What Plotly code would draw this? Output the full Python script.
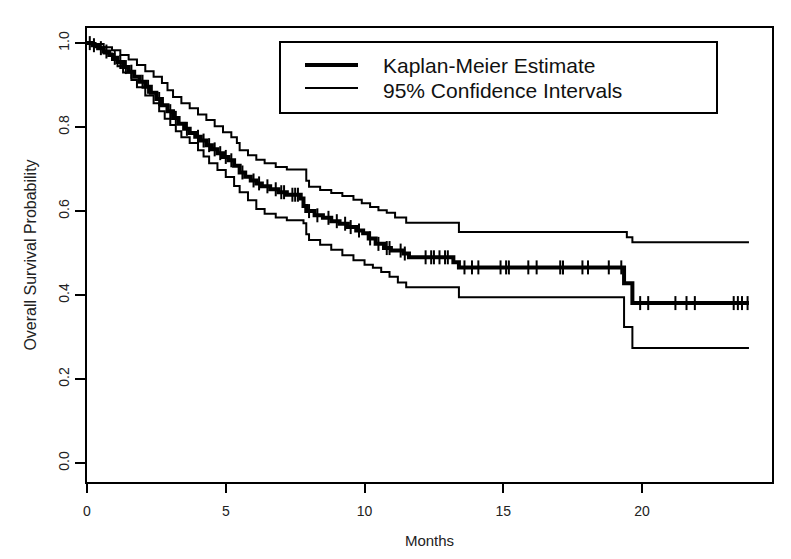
import numpy as np
import plotly.graph_objects as go

# ---------------- data ----------------
km_time = [0, 0.2, 0.4, 0.6, 0.8, 0.95, 1.1, 1.3, 1.5, 1.7, 1.9, 2.1, 2.3, 2.5, 2.7, 2.9,
           3.1, 3.3, 3.5, 3.7, 3.9, 4.1, 4.3, 4.5, 4.7, 4.9, 5.1, 5.3, 5.5, 5.7, 5.9, 6.1,
           6.3, 6.6, 6.9, 7.2, 7.7, 7.8, 7.9, 8.2, 8.5, 8.8, 9.1, 9.4, 9.7, 9.95, 10.15,
           10.4, 10.7, 10.95, 11.4, 11.6, 13.2, 13.4, 19.35, 19.65, 23.85]
km_surv = [1.0, 0.995, 0.988, 0.98, 0.972, 0.965, 0.955, 0.943, 0.932, 0.92, 0.908, 0.896,
           0.882, 0.867, 0.852, 0.838, 0.822, 0.808, 0.796, 0.786, 0.777, 0.768, 0.757,
           0.747, 0.738, 0.729, 0.721, 0.708, 0.692, 0.682, 0.673, 0.666, 0.659, 0.652,
           0.645, 0.639, 0.630, 0.612, 0.600, 0.590, 0.584, 0.576, 0.570, 0.562, 0.554,
           0.547, 0.535, 0.522, 0.512, 0.506, 0.499, 0.490, 0.478, 0.466, 0.428, 0.381, 0.381]

upper_time = [0, 0.3, 0.6, 0.9, 1.2, 1.5, 1.8, 2.1, 2.4, 2.7, 2.9, 3.1, 3.4, 3.7, 4.0, 4.3,
              4.6, 4.9, 5.2, 5.4, 5.5, 5.8, 6.1, 6.4, 6.8, 7.2, 7.9, 8.0, 8.4, 8.8, 9.2,
              9.6, 9.9, 10.2, 10.5, 10.8, 11.1, 11.5, 13.4, 19.45, 19.65, 23.85]
upper_surv = [1.0, 0.998, 0.99, 0.983, 0.972, 0.961, 0.948, 0.933, 0.92, 0.905, 0.888,
              0.872, 0.857, 0.845, 0.83, 0.817, 0.802, 0.788, 0.776, 0.762, 0.745, 0.733,
              0.722, 0.714, 0.705, 0.699, 0.672, 0.658, 0.650, 0.643, 0.636, 0.627, 0.619,
              0.61, 0.602, 0.596, 0.585, 0.572, 0.55, 0.538, 0.526, 0.526]

lower_time = [0, 0.3, 0.6, 0.9, 1.1, 1.3, 1.6, 1.8, 2.1, 2.4, 2.6, 2.8, 3.0, 3.2, 3.4, 3.7,
              4.0, 4.2, 4.4, 4.7, 5.0, 5.3, 5.5, 5.8, 6.1, 6.4, 6.8, 7.2, 7.8, 7.9, 8.0,
              8.4, 8.8, 9.2, 9.6, 10.0, 10.3, 10.6, 10.9, 11.2, 11.5, 13.4, 19.35, 19.65, 23.85]
lower_surv = [1.0, 0.99, 0.975, 0.96, 0.945, 0.93, 0.912, 0.895, 0.875, 0.857, 0.838, 0.82,
              0.805, 0.79, 0.776, 0.762, 0.745, 0.73, 0.714, 0.698, 0.681, 0.66, 0.645,
              0.626, 0.605, 0.594, 0.585, 0.578, 0.571, 0.545, 0.531, 0.52, 0.508, 0.495,
              0.483, 0.472, 0.465, 0.455, 0.444, 0.43, 0.419, 0.395, 0.324, 0.274, 0.274]

censor_time = [0.1, 0.25, 0.5, 0.7, 1.0, 1.2, 1.4, 1.6, 2.0, 2.2, 2.6, 3.0, 3.2, 3.6, 4.0,
               4.2, 4.4, 4.6, 4.8, 5.0, 5.2, 5.6, 6.0, 6.2, 6.5, 6.8, 7.0, 7.1, 7.4, 7.5,
               7.6, 8.0, 8.3, 8.7, 9.0, 9.3, 9.5, 9.8, 10.2, 10.5, 10.8, 10.9, 11.3, 11.45,
               12.2, 12.4, 12.5, 12.7, 12.9, 13.0, 13.6, 13.87, 14.1, 14.9, 15.1, 15.2,
               15.9, 16.2, 17.05, 17.15, 17.85, 18.05, 18.8, 19.25, 19.93, 20.22, 21.2,
               21.6, 21.9, 23.3, 23.45, 23.6, 23.8]

x_ticks = [0, 5, 10, 15, 20]
y_ticks = [0.0, 0.2, 0.4, 0.6, 0.8, 1.0]
y_tick_text = ["0.0", "0.2", "0.4", "0.6", "0.8", "1.0"]
legend_labels = ["Kaplan-Meier Estimate", "95% Confidence Intervals"]

# survival level at each censoring time (step function lookup)
km_t = np.array(km_time)
km_s = np.array(km_surv)
censor_surv = km_s[np.searchsorted(km_t, np.array(censor_time), side="right") - 1]

# ---------------- layout geometry (page pixels; page body has an 8px margin) ----------------
OFF = 8
W, H = 791 - 2 * OFF, 559 - 2 * OFF
L, R, T, B = 87, 772, 28, 482   # plot frame in window pixels


def px(xp):
    return (xp - L) / (R - L)


def py(yp):
    return (B - yp) / (B - T)


FONT = "Liberation Sans, Arial, sans-serif"

fig = go.Figure()
fig.add_trace(go.Scatter(x=upper_time, y=upper_surv, mode="lines", line_shape="hv",
                         line=dict(color="black", width=2), showlegend=False,
                         hoverinfo="skip"))
fig.add_trace(go.Scatter(x=lower_time, y=lower_surv, mode="lines", line_shape="hv",
                         line=dict(color="black", width=2), showlegend=False,
                         hoverinfo="skip"))
fig.add_trace(go.Scatter(x=km_time, y=km_surv, mode="lines", line_shape="hv",
                         line=dict(color="black", width=4), showlegend=False))
fig.add_trace(go.Scatter(x=censor_time, y=censor_surv, mode="markers",
                         marker=dict(symbol="line-ns", size=10,
                                     line=dict(color="black", width=2)),
                         showlegend=False))

tick_font = dict(family=FONT, size=14, color="#222")

fig.update_xaxes(range=[0, 24.68], tickvals=x_ticks, ticks="outside", ticklen=9,
                 tickwidth=2, tickcolor="black", showline=True, linecolor="black",
                 linewidth=2, mirror=True, showgrid=False, zeroline=False,
                 tickfont=tick_font, ticklabelstandoff=6, automargin=False,
                 title=dict(text="Months", font=dict(family=FONT, size=15, color="#222"),
                            standoff=18))
fig.update_yaxes(range=[-0.045, 1.036], tickvals=y_ticks, ticktext=y_tick_text,
                 tickangle=-90, ticks="outside", ticklen=10, tickwidth=2,
                 tickcolor="black", showline=True, linecolor="black", linewidth=2,
                 mirror=True, showgrid=False, zeroline=False, tickfont=tick_font,
                 automargin=False,
                 title=dict(text="Overall Survival Probability",
                            font=dict(family=FONT, size=16, color="#222"), standoff=16))

# legend drawn as a boxed key
shapes = [
    dict(type="rect", xref="paper", yref="paper", x0=px(280), x1=px(717), y0=py(113),
         y1=py(42), line=dict(color="black", width=2), fillcolor="white", layer="above"),
    dict(type="line", xref="paper", yref="paper", x0=px(305), x1=px(358), y0=py(65),
         y1=py(65), line=dict(color="black", width=4), layer="above"),
    dict(type="line", xref="paper", yref="paper", x0=px(305), x1=px(358), y0=py(88),
         y1=py(88), line=dict(color="black", width=2), layer="above"),
]
annotations = [
    dict(text=legend_labels[0], xref="paper", yref="paper", x=px(382), y=py(66),
         xanchor="left", yanchor="middle", showarrow=False, borderpad=0,
         font=dict(family=FONT, size=21, color="#111")),
    dict(text=legend_labels[1], xref="paper", yref="paper", x=px(382), y=py(91),
         xanchor="left", yanchor="middle", showarrow=False, borderpad=0,
         font=dict(family=FONT, size=21, color="#111")),
]

fig.update_layout(width=W, height=H,
                  margin=dict(l=L - OFF, r=W - (R - OFF), t=T - OFF, b=H - (B - OFF)),
                  paper_bgcolor="white", plot_bgcolor="white", shapes=shapes,
                  annotations=annotations, showlegend=False)

fig.write_html("out.html")
